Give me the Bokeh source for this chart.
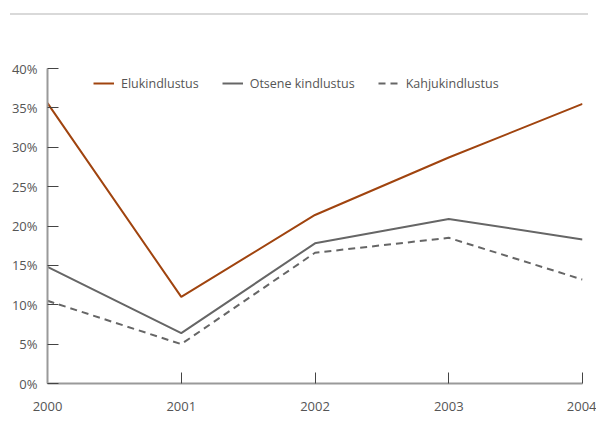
from bokeh.plotting import figure
from bokeh.layouts import column
from bokeh.models import ColumnDataSource, Legend, LegendItem, FixedTicker, Range1d, Div
from bokeh.embed import file_html
from bokeh.resources import INLINE

# Insurance class shares by year (percent)
years = [2000, 2001, 2002, 2003, 2004]
elukindlustus = [35.6, 11.0, 21.4, 28.7, 35.5]
otsene = [14.8, 6.4, 17.8, 20.9, 18.3]
kahju = [10.5, 5.0, 16.6, 18.5, 13.2]
y_ticks = [0, 5, 10, 15, 20, 25, 30, 35, 40]

FONT = "Open Sans"
TEXT = "#555555"
AXIS = "#9a9a9a"

# thin rule above the chart
rule = Div(text='<div style="margin:13px 0 0 10px;width:578px;height:0;'
                'border-top:2px solid #d9d9d9;"></div>',
           width=596, height=30, margin=0)

p = figure(width=596, height=418, output_backend="svg", toolbar_location=None,
           x_range=Range1d(2000, 2004), y_range=Range1d(0, 40),
           min_border_left=47, min_border_right=14,
           min_border_top=38, min_border_bottom=65,
           outline_line_color=None)
p.grid.visible = False

src = ColumnDataSource(dict(x=years, e=elukindlustus, o=otsene, k=kahju))
r1 = p.line("x", "e", source=src, line_color="#a0440f", line_width=2)
r2 = p.line("x", "o", source=src, line_color="#666666", line_width=2)
r3 = p.line("x", "k", source=src, line_color="#666666", line_width=2, line_dash="7 5")

for ax in (p.xaxis[0], p.yaxis[0]):
    ax.axis_line_color = AXIS
    ax.axis_line_width = 2
    ax.major_tick_line_color = "#444444"
    ax.major_tick_in = 11
    ax.major_tick_out = 0
    ax.minor_tick_line_color = None
    ax.major_label_text_font = FONT
    ax.major_label_text_font_size = "13px"
    ax.major_label_text_color = TEXT

p.yaxis.ticker = FixedTicker(ticks=y_ticks)
p.yaxis.major_label_overrides = {t: f"{t}%" for t in y_ticks}
p.yaxis.major_label_standoff = 10
p.xaxis.ticker = FixedTicker(ticks=years)
p.xaxis.major_label_standoff = 18

legend = Legend(items=[
    LegendItem(label="Elukindlustus", renderers=[r1]),
    LegendItem(label="Otsene kindlustus", renderers=[r2]),
    LegendItem(label="Kahjukindlustus", renderers=[r3]),
], orientation="horizontal", location=(46, 290))
legend.label_text_font = FONT
legend.label_text_font_size = "12.5px"
legend.label_text_color = TEXT
legend.glyph_width = 21
legend.label_standoff = 7
legend.spacing = 23
legend.padding = 0
legend.margin = 0
legend.border_line_color = None
legend.background_fill_alpha = 0
p.add_layout(legend, "center")

layout = column(rule, p, spacing=0)
open("out.html", "w").write(file_html(layout, INLINE))
